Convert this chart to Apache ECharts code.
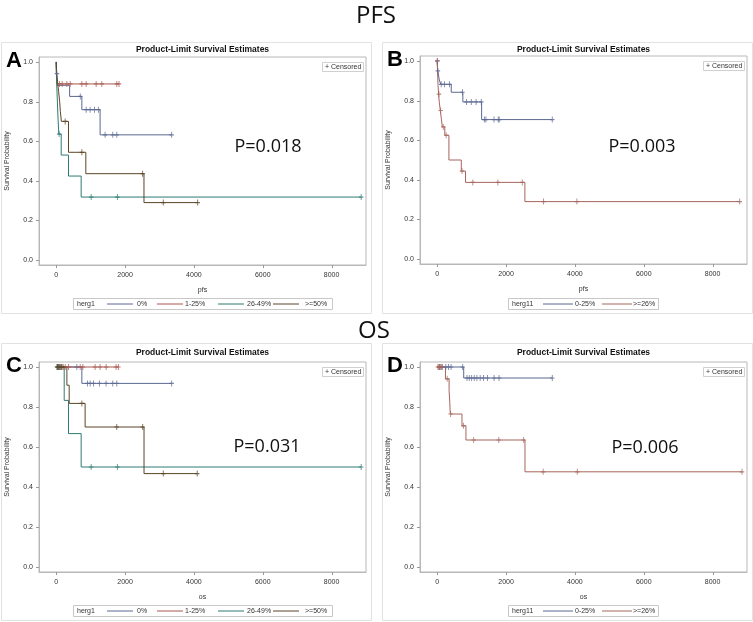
<!DOCTYPE html>
<html>
<head>
<meta charset="utf-8">
<script src="https://cdn.jsdelivr.net/npm/echarts@6/dist/echarts.min.js"></script>
<style>
  html, body { margin: 0; padding: 0; background: #fff; }
  #chart { width: 753px; height: 622px; }
</style>
</head>
<body>
<div id="chart"></div>
<script>
// axis ticks
const TIME_TICKS = [0, 2000, 4000, 6000, 8000]
const SURV_TICKS = [0, 0.2, 0.4, 0.6, 0.8, 1.0]

const HERG1_GROUPS = ['0%', '1-25%', '26-49%', '>=50%']
const HERG11_GROUPS = ['0-25%', '>=26%']
const P_VALUES = ['P=0.018', 'P=0.003', 'P=0.031', 'P=0.006']

// --- A: PFS by herg1  ([time, survival] at each step, then censor times)
const pfsA_0 = [[0, 1], [5, 0.941], [30, 0.882], [390, 0.826], [745, 0.759], [1275, 0.632], [3354, 0.632]]
const pfsA_0_cens = [20, 700, 870, 985, 1110, 1226, 1420, 1643, 1760, 3354]
const pfsA_1_25 = [[0, 1], [15, 0.889], [1825, 0.889]]
const pfsA_1_25_cens = [96, 174, 310, 406, 745, 870, 1160, 1325, 1760, 1825]
const pfsA_26_49 = [[0, 1], [10, 0.909], [30, 0.818], [50, 0.727], [75, 0.636], [145, 0.53], [357, 0.424], [725, 0.318], [8860, 0.318]]
const pfsA_26_49_cens = [85, 1015, 1777, 8860]
const pfsA_50 = [[0, 1], [10, 0.95], [40, 0.9], [70, 0.85], [100, 0.8], [120, 0.75], [150, 0.7], [357, 0.544], [860, 0.436], [2550, 0.29], [4110, 0.29]]
const pfsA_50_cens = [260, 745, 2510, 3110, 4110]

// --- B: PFS by herg11
const pfsB_0_25 = [[0, 1], [5, 0.975], [15, 0.95], [30, 0.938], [60, 0.904], [105, 0.882], [407, 0.842], [745, 0.793], [1290, 0.704], [3343, 0.704]]
const pfsB_0_25_cens = [2, 20, 116, 213, 357, 734, 850, 990, 1130, 1280, 1370, 1415, 1650, 1773, 1802, 3343]
const pfsB_26 = [[0, 1], [8, 0.958], [15, 0.917], [25, 0.875], [40, 0.833], [60, 0.792], [90, 0.75], [120, 0.708], [150, 0.667], [220, 0.625], [340, 0.5], [700, 0.444], [823, 0.387], [2547, 0.29], [8788, 0.29]]
const pfsB_26_cens = [3, 50, 100, 175, 260, 720, 1035, 1762, 2471, 3090, 4058, 8788]

// --- C: OS by herg1
const osC_0 = [[0, 1], [745, 0.918], [3354, 0.918]]
const osC_0_cens = [40, 120, 600, 907, 986, 1082, 1255, 1449, 1643, 1759, 3354]
const osC_1_25 = [[0, 1], [1806, 1]]
const osC_1_25_cens = [20, 67, 116, 165, 261, 357, 696, 774, 1130, 1275, 1450, 1739, 1806]
const osC_26_49 = [[0, 1], [232, 0.833], [357, 0.667], [725, 0.5], [8860, 0.5]]
const osC_26_49_cens = [30, 90, 1015, 1777, 8860]
const osC_50 = [[0, 1], [310, 0.909], [377, 0.818], [840, 0.7], [2551, 0.467], [4096, 0.467]]
const osC_50_cens = [50, 80, 150, 200, 745, 1759, 2513, 3110, 4096]

// --- D: OS by herg11
const osD_0_25 = [[0, 1], [770, 0.945], [3343, 0.945]]
const osD_0_25_cens = [66, 150, 250, 330, 403, 740, 864, 931, 1000, 1076, 1153, 1248, 1346, 1461, 1652, 1796, 3343]
const osD_26 = [[0, 1], [240, 0.941], [345, 0.882], [365, 0.824], [380, 0.765], [720, 0.706], [835, 0.635], [2550, 0.476], [8856, 0.476]]
const osD_26_cens = [20, 45, 70, 100, 120, 290, 390, 760, 1060, 1790, 2513, 3078, 4069, 8856]

const COLORS4 = ['#5b6891', '#a8574e', '#2e7a74', '#5a4526']
const COLORS2 = ['#5b6891', '#a5665c']
const FONT = '"Liberation Sans", Arial, sans-serif'
const PLUS = 'path://M2,0H3V2H5V3H3V5H2V3H0V2H2Z'
const FRAME = '#b8b8b8'

// legend item layout, relative to legend box: [line x, line width, text x]
const LEGEND4 = [[34, 26, 64], [84, 26, 112], [145, 26, 174], [200, 26, 232]]
const LEGEND2 = [[35, 30, 67], [94, 30, 125]]

const panels = [
  {
    letter: 'A', xName: 'pfs', legendVar: 'herg1',
    grid: { left: 39, top: 57, width: 327, height: 208 }, titleY: 49.5,
    box: [1, 42, 370, 271], p: [268, 147], legend: [73, 298, 259, 11], items: LEGEND4,
    curves: [[pfsA_0, pfsA_0_cens], [pfsA_1_25, pfsA_1_25_cens], [pfsA_26_49, pfsA_26_49_cens], [pfsA_50, pfsA_50_cens]],
    names: HERG1_GROUPS, colors: COLORS4,
  },
  {
    letter: 'B', xName: 'pfs', legendVar: 'herg11',
    grid: { left: 420, top: 56, width: 327, height: 208 }, titleY: 49.5,
    box: [382, 42, 370, 271], p: [642, 147], legend: [508, 298, 150, 11], items: LEGEND2,
    curves: [[pfsB_0_25, pfsB_0_25_cens], [pfsB_26, pfsB_26_cens]],
    names: HERG11_GROUPS, colors: COLORS2,
  },
  {
    letter: 'C', xName: 'os', legendVar: 'herg1',
    grid: { left: 39, top: 362, width: 327, height: 210 }, titleY: 353,
    box: [1, 343, 370, 277], p: [267, 447], legend: [73, 605, 259, 11], items: LEGEND4,
    curves: [[osC_0, osC_0_cens], [osC_1_25, osC_1_25_cens], [osC_26_49, osC_26_49_cens], [osC_50, osC_50_cens]],
    names: HERG1_GROUPS, colors: COLORS4,
  },
  {
    letter: 'D', xName: 'os', legendVar: 'herg11',
    grid: { left: 420, top: 362, width: 327, height: 210 }, titleY: 353,
    box: [382, 343, 370, 277], p: [645, 448], legend: [508, 605, 150, 11], items: LEGEND2,
    curves: [[osD_0_25, osD_0_25_cens], [osD_26, osD_26_cens]],
    names: HERG11_GROUPS, colors: COLORS2,
  },
]

// survival level of a step curve at time t
const survAt = (steps, t) => {
  let s = steps[0][1]
  for (const [time, val] of steps) {
    if (time <= t) s = val
  }
  return s
}

const txt = (x, y, text, font, fill, align, z) => ({
  type: 'text', x, y, z: z || 10,
  style: {
    text, font, fill: fill || '#222',
    align: align || 'center', verticalAlign: 'middle',
    textAlign: align || 'center', textVerticalAlign: 'middle',
  },
})

const seg = (x1, y1, x2, y2, stroke) => ({
  type: 'line', z: 10,
  shape: { x1, y1, x2, y2 },
  style: { stroke, lineWidth: 1 },
})

const grids = []
const xAxes = []
const yAxes = []
const series = []
const graphics = [
  txt(376, 16, 'PFS', '24px "Open Sans", sans-serif', '#111'),
  txt(374, 331, 'OS', '24px "Open Sans", sans-serif', '#111'),
]

panels.forEach((pn, i) => {
  const g = pn.grid
  grids.push({ ...g, show: true, borderColor: FRAME, borderWidth: 1, backgroundColor: 'transparent' })

  xAxes.push({
    gridIndex: i, type: 'value', min: -500, max: 9000, position: 'bottom',
    name: pn.xName, nameLocation: 'middle', nameGap: 22,
    nameTextStyle: { fontSize: 7, color: '#333', fontFamily: FONT },
    axisLine: { show: true, onZero: false, lineStyle: { color: FRAME } },
    splitLine: { show: false },
    axisTick: { show: false },
    axisLabel: {
      customValues: TIME_TICKS, fontSize: 7, color: '#333', margin: 7, fontFamily: FONT,
      formatter: (v) => String(v),
    },
  })
  yAxes.push({
    gridIndex: i, type: 'value', min: -0.025, max: 1.025, position: 'left',
    name: 'Survival Probability', nameLocation: 'middle', nameGap: 28,
    nameTextStyle: { fontSize: 7, color: '#333', fontFamily: FONT },
    axisLine: { show: true, onZero: false, lineStyle: { color: FRAME } },
    splitLine: { show: false },
    axisTick: { show: false },
    axisLabel: {
      customValues: SURV_TICKS, fontSize: 7, color: '#333', margin: 6, fontFamily: FONT,
      formatter: (v) => v.toFixed(1),
    },
  })

  pn.curves.forEach(([steps, cens], k) => {
    const color = pn.colors[k]
    series.push({
      name: pn.letter + '|' + pn.names[k], type: 'line', step: 'end',
      xAxisIndex: i, yAxisIndex: i,
      data: steps, symbol: 'none', color,
      lineStyle: { width: 1, color },
      z: 3 + k,
    })
    series.push({
      name: 'censored-' + i + '-' + k, type: 'scatter',
      xAxisIndex: i, yAxisIndex: i,
      data: cens.map((t) => [t, survAt(steps, t)]),
      symbol: PLUS, symbolSize: [4.5, 6],
      itemStyle: { color },
      z: 8,
    })
  })

  // legend box
  const [lx, ly, lw, lh] = pn.legend
  const lmid = ly + lh / 2 + 0.5
  graphics.push({
    type: 'rect', shape: { x: lx + 0.5, y: ly + 0.5, width: lw, height: lh },
    style: { fill: 'none', stroke: '#c8c8c8', lineWidth: 1 },
  })
  graphics.push(txt(lx + 4, lmid, pn.legendVar, '7px ' + FONT, '#333', 'left'))
  pn.items.forEach(([ox, w, tx], k) => {
    graphics.push(seg(lx + ox, lmid, lx + ox + w, lmid, pn.colors[k]))
    graphics.push(txt(lx + tx, lmid, pn.names[k], '7px ' + FONT, '#333', 'left'))
  })

  // outer panel box
  const [bx, by, bw, bh] = pn.box
  graphics.push({
    type: 'rect', shape: { x: bx + 0.5, y: by + 0.5, width: bw, height: bh },
    style: { fill: 'none', stroke: '#e2e2e2', lineWidth: 1 }, z: 0,
  })

  // panel titles and letters
  graphics.push(txt(g.left + g.width / 2, pn.titleY, 'Product-Limit Survival Estimates', 'bold 8.5px ' + FONT, '#111'))
  graphics.push(txt(bx + 13, g.top + 4, pn.letter, 'bold 22px ' + FONT, '#000'))
  graphics.push(txt(pn.p[0], pn.p[1], P_VALUES[i], '18px "Open Sans", sans-serif', '#111'))

  // "+ Censored" key
  const cx = g.left + g.width - 44
  const cy = g.top + 5
  graphics.push({
    type: 'rect', shape: { x: cx + 0.5, y: cy + 0.5, width: 41, height: 9 },
    style: { fill: '#fff', stroke: '#d0d0d0', lineWidth: 1 }, z: 9,
  })
  graphics.push(txt(cx + 3, cy + 5, '+ Censored', '7px ' + FONT, '#333', 'left'))
})

const chart = echarts.init(document.getElementById('chart'), null, { renderer: 'canvas' })
const baseOption = {
  animation: false,
  backgroundColor: '#fff',
  grid: grids,
  xAxis: xAxes,
  yAxis: yAxes,
  series,
}
chart.setOption(baseOption)

// tick marks, placed with the axes' own scales
const ticks = []
panels.forEach((pn, i) => {
  SURV_TICKS.forEach((v) => {
    const [px, py] = chart.convertToPixel({ gridIndex: i }, [-500, v])
    const y = Math.round(py) + 0.5
    ticks.push(seg(Math.round(px) - 3, y, Math.round(px), y, '#999'))
  })
  TIME_TICKS.forEach((t) => {
    const [px, py] = chart.convertToPixel({ gridIndex: i }, [t, -0.025])
    const x = Math.round(px) + 0.5
    ticks.push(seg(x, Math.round(py), x, Math.round(py) + 3, '#999'))
  })
})

chart.setOption({ graphic: { elements: graphics.concat(ticks) } })
</script>
</body>
</html>
